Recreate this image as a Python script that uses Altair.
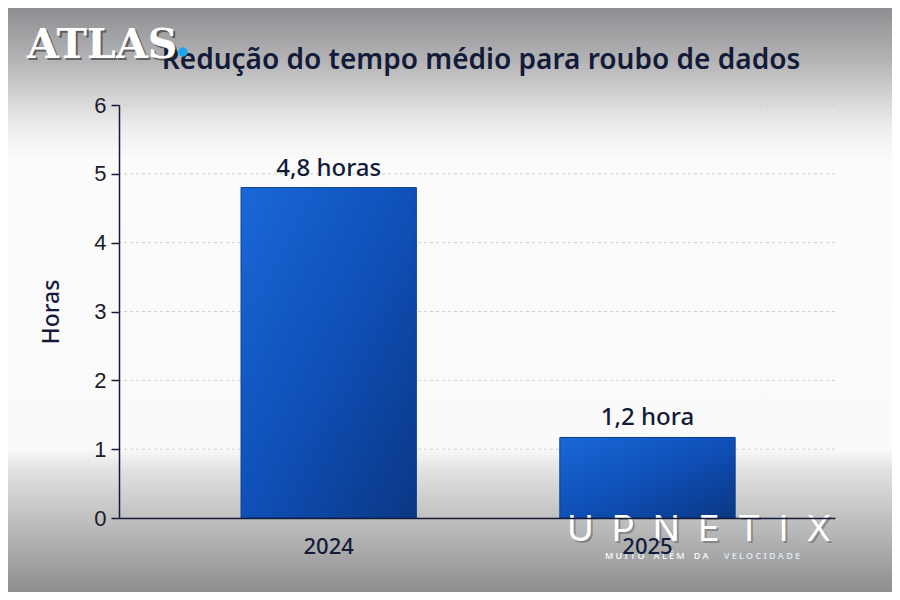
import altair as alt
import pandas as pd

# ---- data ----
years = ["2024", "2025"]
hours = [4.8, 1.17]
bar_labels = ["4,8 horas", "1,2 hora"]
y_ticks = [0, 1, 2, 3, 4, 5, 6]
grid_values = [1, 2, 3, 4, 5, 6]

title_text = "Redução do tempo médio para roubo de dados"
y_title = "Horas"

df = pd.DataFrame({"year": years, "hours": hours, "label": bar_labels})
grid_df = pd.DataFrame({"hours": grid_values})
one = pd.DataFrame({"k": [0]})

W, H = 716, 413
PAD_L, PAD_T, PAD_R, PAD_B = 111, 97, 57, 74

NAVY = "#141b38"

x_axis = alt.Axis(title=None, labelAngle=0, ticks=False, domain=True,
                  domainColor=NAVY, domainWidth=1.5,
                  labelFont="Noto Sans", labelFontSize=22, labelFontWeight=500,
                  labelColor=NAVY, labelPadding=18, zindex=1, grid=False)
x_scale = alt.Scale(paddingInner=0.45, paddingOuter=0.348, align=0.55)
y_scale = alt.Scale(domain=[0, 6], nice=False)
y_axis = alt.Axis(values=y_ticks, title=y_title, grid=False,
                  domainColor=NAVY, domainWidth=1.5,
                  tickColor=NAVY, tickSize=8, tickWidth=1.5,
                  labelFont="Liberation Sans", labelFontSize=22,
                  labelColor="#1c1c2a", labelPadding=5,
                  titleFont="Noto Sans", titleFontSize=23,
                  titleFontWeight=500, titleColor=NAVY,
                  titlePadding=30, zindex=1)

bg_grad = alt.Gradient(
    gradient="linear", x1=0, x2=0, y1=0, y2=1,
    stops=[
        alt.GradientStop(offset=0.0, color="#8f8f93"),
        alt.GradientStop(offset=0.09, color="#b4b4b6"),
        alt.GradientStop(offset=0.20, color="#ececec"),
        alt.GradientStop(offset=0.26, color="#fbfbfb"),
        alt.GradientStop(offset=0.755, color="#fafafa"),
        alt.GradientStop(offset=0.79, color="#e2e2e2"),
        alt.GradientStop(offset=0.87, color="#c2c2c3"),
        alt.GradientStop(offset=1.0, color="#8e8e90"),
    ])

background = alt.Chart(one).mark_rect(fill=bg_grad).encode(
    x=alt.value(-PAD_L), x2=alt.value(W + PAD_R),
    y=alt.value(-PAD_T), y2=alt.value(H + PAD_B))

grid = alt.Chart(grid_df).mark_rule(color="#cfcfcf", strokeDash=[3, 3], strokeWidth=1).encode(
    y=alt.Y("hours:Q", scale=y_scale, axis=y_axis))

bar_grad = alt.Gradient(
    gradient="linear", x1=0, y1=0, x2=1, y2=1,
    stops=[
        alt.GradientStop(offset=0.0, color="#1a68d8"),
        alt.GradientStop(offset=0.5, color="#0f50b8"),
        alt.GradientStop(offset=1.0, color="#0a3784"),
    ])

bars = alt.Chart(df).mark_bar(color=bar_grad, stroke="#0b3d8f", strokeWidth=1).encode(
    x=alt.X("year:N", sort=years, scale=x_scale, axis=x_axis),
    y=alt.Y("hours:Q", scale=y_scale, axis=y_axis))

labels = alt.Chart(df).mark_text(font="Noto Sans", fontSize=24, fontWeight=500,
                                 color=NAVY, baseline="bottom", dy=-7).encode(
    x=alt.X("year:N", sort=years, scale=x_scale, axis=x_axis),
    y=alt.Y("hours:Q", scale=y_scale, axis=y_axis),
    text="label:N")

title = alt.Chart(one).mark_text(text=title_text, font="Noto Sans", fontSize=28,
                                 fontWeight=600, color=NAVY, align="center",
                                 baseline="alphabetic").encode(
    x=alt.value(362), y=alt.value(-36))

atlas_shadow = alt.Chart(one).mark_text(text="ATLAS", font="DejaVu Serif", fontSize=41,
                                        fontWeight="bold", color="#222222", opacity=0.55,
                                        align="left", baseline="alphabetic").encode(
    x=alt.value(-90), y=alt.value(-45))
atlas = alt.Chart(one).mark_text(text="ATLAS", font="DejaVu Serif", fontSize=41,
                                 fontWeight="bold", color="#ffffff",
                                 align="left", baseline="alphabetic").encode(
    x=alt.value(-92), y=alt.value(-47))
dot = alt.Chart(one).mark_circle(color="#1ba6ec", opacity=1, size=90).encode(
    x=alt.value(64), y=alt.value(-53))

S = "\u2002"
up_shadow = alt.Chart(one).mark_text(text=S.join("UPNETIX"), font="Inter", fontSize=36,
                                     fontWeight=400, color="#555555", opacity=0.45,
                                     align="left", baseline="alphabetic").encode(
    x=alt.value(450), y=alt.value(438))
up = alt.Chart(one).mark_text(text=S.join("UPNETIX"), font="Inter", fontSize=36,
                              fontWeight=400, color="#ffffff",
                              align="left", baseline="alphabetic").encode(
    x=alt.value(448), y=alt.value(436))
L = "\u2005"
Wd = "\u2003"
tag1 = alt.Chart(one).mark_text(text=Wd.join(L.join(w) for w in ["MUITO", "ALÉM", "DA"]),
                                font="Noto Sans", fontSize=9, fontWeight=600,
                                color="#f4f4f4", align="left", baseline="middle").encode(
    x=alt.value(486), y=alt.value(451))
tag2 = alt.Chart(one).mark_text(text=L.join("VELOCIDADE"),
                                font="Noto Sans", fontSize=9, fontWeight=600,
                                color="#dfe6f2", align="right", baseline="middle").encode(
    x=alt.value(681), y=alt.value(451))

chart = alt.layer(
    background, grid, bars, labels, title, atlas_shadow, atlas, dot,
    up_shadow, up, tag1, tag2
).properties(
    width=W, height=H,
    autosize=alt.AutoSizeParams(type="none"),
    padding={"left": PAD_L, "top": PAD_T, "right": PAD_R, "bottom": PAD_B},
    background="#ffffff",
).configure_view(stroke=None)

chart.save("out.html", embed_options={"renderer": "svg", "actions": False})
